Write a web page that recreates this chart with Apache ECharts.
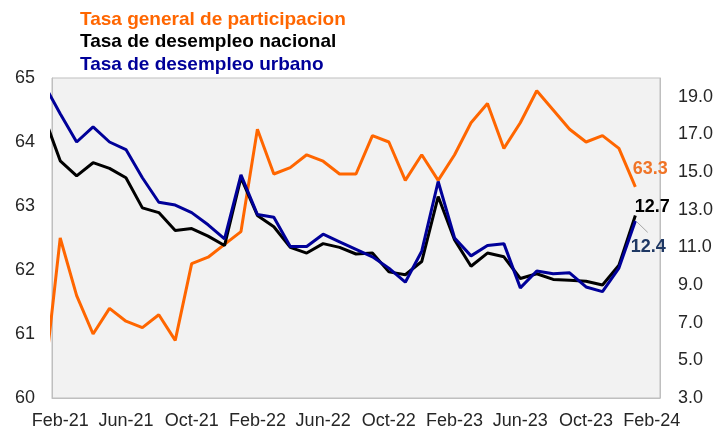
<!DOCTYPE html>
<html>
<head>
<meta charset="utf-8">
<script src="https://cdn.jsdelivr.net/npm/echarts@6/dist/echarts.min.js"></script>
<style>
html,body{margin:0;padding:0;background:#fff;}
#chart{width:717px;height:431px;}
</style>
</head>
<body>
<div id="chart"></div>
<script>
// Month axis (Jan-21 .. Feb-24); data runs Jan-21 .. Jan-24
const axisMonths = ['Jan-21','Feb-21','Mar-21','Apr-21','May-21','Jun-21','Jul-21','Aug-21','Sep-21','Oct-21','Nov-21','Dec-21',
  'Jan-22','Feb-22','Mar-22','Apr-22','May-22','Jun-22','Jul-22','Aug-22','Sep-22','Oct-22','Nov-22','Dec-22',
  'Jan-23','Feb-23','Mar-23','Apr-23','May-23','Jun-23','Jul-23','Aug-23','Sep-23','Oct-23','Nov-23','Dec-23',
  'Jan-24','Feb-24'];
const xTickLabels = ['Feb-21','Jun-21','Oct-21','Feb-22','Jun-22','Oct-22','Feb-23','Jun-23','Oct-23','Feb-24'];

const seriesNames = ['Tasa general de participacion','Tasa de desempleo nacional','Tasa de desempleo urbano'];

// Tasa general de participacion (left axis)
const participacion = [60.2, 62.5, 61.6, 61.0, 61.4, 61.2, 61.1, 61.3, 60.9, 62.1, 62.2, 62.4,
  62.6, 64.2, 63.5, 63.6, 63.8, 63.7, 63.5, 63.5, 64.1, 64.0, 63.4, 63.8,
  63.4, 63.8, 64.3, 64.6, 63.9, 64.3, 64.8, 64.5, 64.2, 64.0, 64.1, 63.9,
  63.3];
// Tasa de desempleo nacional (right axis)
const nacional = [18.0, 15.6, 14.8, 15.5, 15.2, 14.7, 13.1, 12.85, 11.9, 12.0, 11.6, 11.1,
  14.7, 12.7, 12.1, 11.0, 10.7, 11.2, 11.0, 10.65, 10.7, 9.7, 9.55, 10.25,
  13.7, 11.4, 10.0, 10.7, 10.5, 9.35, 9.6, 9.3, 9.25, 9.2, 9.0, 10.05,
  12.7];
// Tasa de desempleo urbano (right axis)
const urbano = [19.7, 18.1, 16.6, 17.4, 16.6, 16.2, 14.7, 13.4, 13.25, 12.85, 12.2, 11.45,
  14.85, 12.75, 12.6, 11.05, 11.05, 11.7, 11.3, 10.9, 10.5, 9.9, 9.15, 10.8,
  14.5, 11.5, 10.55, 11.1, 11.2, 8.85, 9.75, 9.6, 9.65, 8.9, 8.65, 9.9,
  12.4];

const leftTicks = [60, 61, 62, 63, 64, 65];
const rightTicks = [3, 5, 7, 9, 11, 13, 15, 17, 19];

const colors = ['#FF6600', '#000000', '#000099'];
const endLabelColors = ['#F07427', '#000000', '#1F3864'];
const endOffsets = [[15, -18], [17, -8], [13, 26]];
const FONT = '"Liberation Sans", Arial, sans-serif';

function buildData(values, si) {
  return values.map((v, i) => {
    const item = { value: [i, v] };
    if (i === values.length - 1) {
      item.label = {
        show: true,
        position: 'inside',
        offset: endOffsets[si],
        formatter: v.toFixed(1),
        color: endLabelColors[si],
        fontFamily: FONT,
        fontSize: 18,
        fontWeight: 'bold'
      };
    }
    return item;
  });
}

const lastIdx = urbano.length - 1;
const lastUrb = urbano[lastIdx];

const chart = echarts.init(document.getElementById('chart'));
const option = {
  animation: false,
  backgroundColor: '#ffffff',
  legend: {
    orient: 'vertical',
    left: 75,
    top: 8.5,
    padding: 0,
    icon: 'none',
    itemWidth: 0,
    itemHeight: 10,
    itemGap: 0,
    selectedMode: false,
    data: seriesNames.map((n, i) => ({ name: n, textStyle: { color: colors[i] } })),
    textStyle: { fontFamily: FONT, fontSize: 19, fontWeight: 'bold', lineHeight: 22.5 }
  },
  grid: {
    left: 52, right: 57, top: 78, bottom: 33,
    show: true, backgroundColor: '#F2F2F2', borderColor: '#BFBFBF', borderWidth: 1
  },
  xAxis: {
    type: 'value',
    min: 0.5,
    max: 37.5,
    axisLine: { show: true, lineStyle: { color: '#BFBFBF' } },
    axisTick: { show: false },
    splitLine: { show: false },
    axisLabel: {
      customValues: xTickLabels.map(l => axisMonths.indexOf(l)),
      formatter: v => axisMonths[Math.round(v)],
      color: '#262626',
      fontFamily: FONT,
      fontSize: 18,
      margin: 14
    }
  },
  yAxis: [
    {
      type: 'value', min: 60, max: 65, interval: 1, position: 'left',
      axisLine: { show: true, lineStyle: { color: '#BFBFBF' } },
      axisTick: { show: false },
      splitLine: { show: false },
      axisLabel: {
        formatter: v => leftTicks.includes(v) ? String(v) : '',
        color: '#262626', fontFamily: FONT, fontSize: 18, margin: 17
      }
    },
    {
      type: 'value', min: 3, max: 20, interval: 1, position: 'right',
      axisLine: { show: true, lineStyle: { color: '#BFBFBF' } },
      axisTick: { show: false },
      splitLine: { show: false },
      axisLabel: {
        formatter: v => rightTicks.includes(v) ? v.toFixed(1) : '',
        color: '#262626', fontFamily: FONT, fontSize: 18, margin: 18
      }
    }
  ],
  series: [
    {
      name: seriesNames[0], type: 'line', yAxisIndex: 0,
      data: buildData(participacion, 0),
      symbol: 'circle', symbolSize: 0, showSymbol: true, clip: true,
      lineStyle: { color: colors[0], width: 3 }, itemStyle: { color: colors[0] }
    },
    {
      name: seriesNames[1], type: 'line', yAxisIndex: 1,
      data: buildData(nacional, 1),
      symbol: 'circle', symbolSize: 0, showSymbol: true, clip: true,
      lineStyle: { color: colors[1], width: 3 }, itemStyle: { color: colors[1] }
    },
    {
      name: seriesNames[2], type: 'line', yAxisIndex: 1,
      data: buildData(urbano, 2),
      symbol: 'circle', symbolSize: 0, showSymbol: true, clip: true,
      lineStyle: { color: colors[2], width: 3 }, itemStyle: { color: colors[2] },
      markLine: {
        silent: true,
        symbol: ['none', 'none'],
        label: { show: false },
        lineStyle: { color: '#A6A6A6', width: 1, type: 'solid' },
        data: [[
          { coord: [lastIdx + 0.1, lastUrb - 0.05] },
          { coord: [lastIdx + 0.75, lastUrb - 0.6] }
        ]]
      }
    }
  ]
};
chart.setOption(option);
</script>
</body>
</html>
